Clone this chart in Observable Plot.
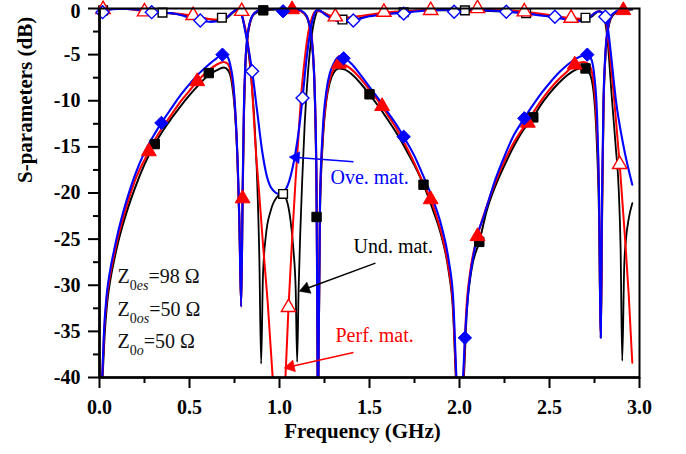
<!DOCTYPE html>
<html><head><meta charset="utf-8">
<script src="https://cdn.jsdelivr.net/npm/d3@7"></script>
<script src="https://cdn.jsdelivr.net/npm/@observablehq/plot@0.6"></script>
<style>
body{margin:0;background:#fff;}
#chart{width:686px;height:454px;}
svg text{font-family:"Liberation Serif","Times New Roman",serif;}
</style>
</head><body><div id="chart"></div>
<script>
// ---- S21 curves (filled markers) ----
const s21Und = [[0.017,-40],[0.028,-35.5],[0.043,-31.8],[0.062,-29.2],[0.08,-27.4],[0.1,-25.6],[0.13,-23.4],[0.16,-21.5],[0.2,-19.3],[0.25,-16.9],[0.307,-14.7],[0.35,-13.3],[0.4,-11.9],[0.45,-10.6],[0.5,-9.4],[0.55,-8.3],[0.607,-7.2],[0.65,-6.7],[0.69,-6.4],[0.715,-6.7],[0.735,-8.0],[0.752,-11],[0.767,-16.5],[0.778,-24],[0.787,-32.3],
 [0.795,-21],[0.802,-12],[0.81,-6.5],[0.82,-3.6],[0.835,-1.7],[0.86,-0.6],[0.91,-0.2],[1.0,-0.1],[1.1,-0.2],[1.14,-0.6],[1.16,-1.4],[1.18,-3.7],[1.195,-9],[1.207,-22.6],[1.212,-40],[1.214,-46],[1.216,-40],
 [1.225,-22],[1.24,-14.5],[1.26,-10],[1.28,-8],[1.3,-7],[1.33,-6.5],[1.36,-6.6],[1.4,-7.1],[1.45,-8.1],[1.5,-9.3],[1.55,-10.6],[1.6,-12],[1.65,-13.5],[1.7,-15.2],[1.75,-17],[1.8,-19.1],[1.85,-21.7],[1.9,-24.7],[1.94,-28.5],[1.965,-33],[1.98,-40],[2.0,-46],[2.024,-40],
 [2.04,-33],[2.065,-28.5],[2.11,-25.3],[2.15,-22],[2.2,-19.2],[2.25,-17],[2.3,-15],[2.35,-13.3],[2.41,-11.8],[2.45,-10.5],[2.5,-9.2],[2.55,-8.1],[2.6,-7.2],[2.65,-6.6],[2.69,-6.4],[2.72,-6.9],[2.745,-9],[2.762,-14],[2.775,-22],[2.785,-35.7],
 [2.793,-21],[2.8,-11],[2.81,-5.5],[2.825,-2.3],[2.85,-0.8],[2.9,-0.2],[2.96,-0.1]];
const s21Perf = [[0.015,-40],[0.026,-35],[0.041,-31.3],[0.06,-28.8],[0.08,-26.8],[0.1,-25],[0.13,-22.8],[0.16,-20.8],[0.2,-18.5],[0.274,-15.5],[0.3,-14.5],[0.35,-12.9],[0.4,-11.5],[0.45,-10.1],[0.5,-8.9],[0.543,-7.9],[0.6,-6.8],[0.65,-6.1],[0.69,-5.8],[0.712,-6.0],[0.73,-7.0],[0.748,-9.5],[0.764,-15],[0.777,-23],[0.787,-32.3],
 [0.795,-20.6],[0.802,-11.5],[0.81,-6.2],[0.82,-3.4],[0.835,-1.6],[0.86,-0.5],[0.9,-0.1],[1.0,0],[1.07,-0.1],[1.12,-0.3],[1.15,-0.8],[1.17,-2],[1.185,-4.5],[1.198,-10.5],[1.207,-22],[1.212,-40],[1.214,-46],[1.216,-40],
 [1.225,-21],[1.24,-14],[1.26,-9.7],[1.28,-7.6],[1.3,-6.6],[1.33,-6.0],[1.36,-6.1],[1.4,-6.6],[1.45,-7.6],[1.5,-8.8],[1.57,-10.6],[1.6,-11.5],[1.65,-13],[1.7,-14.8],[1.75,-16.8],[1.8,-19],[1.84,-20.7],[1.87,-22.4],[1.9,-24.4],[1.94,-28.2],[1.965,-32.5],[1.981,-40],[2.0,-46],[2.022,-40],
 [2.037,-33],[2.06,-28.5],[2.1,-24.7],[2.15,-21.5],[2.2,-18.8],[2.25,-16.5],[2.3,-14.6],[2.38,-12.2],[2.45,-10.1],[2.5,-8.8],[2.55,-7.7],[2.6,-6.8],[2.64,-6.1],[2.69,-5.8],[2.72,-6.1],[2.745,-8],[2.762,-12.5],[2.775,-20],[2.785,-35.7],
 [2.793,-20],[2.8,-10.5],[2.81,-5.2],[2.825,-2.1],[2.85,-0.7],[2.9,-0.1],[2.96,0]];
const s21Ove = [[0.015,-40],[0.025,-35],[0.04,-31],[0.06,-28.3],[0.08,-26.3],[0.1,-24.5],[0.13,-22.2],[0.16,-20.2],[0.2,-17.9],[0.25,-15.6],[0.3,-13.8],[0.344,-12.4],[0.4,-10.8],[0.45,-9.4],[0.5,-8.2],[0.55,-7.1],[0.6,-6.2],[0.65,-5.4],[0.683,-5.0],[0.705,-5.1],[0.725,-6.0],[0.745,-8.5],[0.762,-14],[0.776,-22],[0.787,-32.3],
 [0.795,-20],[0.802,-11],[0.81,-6],[0.82,-3.3],[0.835,-1.5],[0.86,-0.5],[0.9,-0.1],[0.95,0],[1.0,-0.1],[1.05,-0.05],[1.1,-0.1],[1.14,-0.5],[1.16,-1.3],[1.18,-3.5],[1.195,-8.5],[1.205,-18],[1.212,-40],[1.214,-46],[1.216,-40],
 [1.225,-21],[1.24,-13.3],[1.26,-9],[1.28,-7],[1.3,-6],[1.33,-5.2],[1.356,-5.3],[1.4,-6.0],[1.45,-7.2],[1.5,-8.5],[1.55,-9.8],[1.6,-11.2],[1.65,-12.6],[1.69,-13.9],[1.75,-16],[1.8,-18.2],[1.85,-20.6],[1.9,-23.6],[1.94,-27.3],[1.965,-31.5],[1.983,-40],[2.0,-46],[2.02,-40],
 [2.03,-35.7],[2.05,-30.5],[2.08,-26.5],[2.1,-24.5],[2.13,-22.8],[2.2,-18.5],[2.25,-16],[2.3,-13.8],[2.36,-11.9],[2.4,-10.7],[2.45,-9.3],[2.5,-8.1],[2.55,-7],[2.6,-6.1],[2.65,-5.4],[2.71,-5.0],[2.73,-5.4],[2.75,-7.5],[2.765,-12],[2.775,-20],[2.785,-35.7],
 [2.792,-20],[2.8,-10],[2.81,-5],[2.825,-2],[2.85,-0.6],[2.9,-0.1],[2.96,0]];

// ---- S11 curves (hollow markers) ----
const s11Und = [[0.0,-0.3],[0.05,-0.05],[0.1,0],[0.2,-0.1],[0.3,-0.3],[0.35,-0.45],[0.45,-0.65],[0.55,-0.95],[0.62,-1.2],[0.67,-1.3],[0.71,-1.0],[0.74,-0.5],[0.765,-0.15],[0.785,-0.5],[0.8,-1.5],[0.82,-3.5],[0.84,-7],[0.86,-12],[0.876,-18.7],[0.888,-27],[0.898,-38.5],[0.908,-29],[0.925,-24.5],[0.95,-22],[0.98,-20.6],[1.015,-20.1],[1.04,-20.8],[1.06,-22.8],[1.078,-26.3],[1.09,-30.5],[1.098,-38.3],[1.106,-30.6],[1.115,-24.5],[1.126,-18.7],[1.14,-12.5],[1.16,-6.5],[1.18,-2.8],[1.2,-0.8],[1.215,-0.2],[1.24,-0.4],[1.3,-1.0],[1.35,-1.3],[1.4,-1.2],[1.5,-0.8],[1.6,-0.5],[1.8,-0.2],[2.03,-0.2],[2.2,-0.3],[2.37,-0.5],[2.5,-0.8],[2.6,-1.1],[2.7,-1.2],[2.74,-0.8],[2.775,-0.3],[2.8,-0.7],[2.82,-3],[2.848,-10.1],[2.868,-15],[2.885,-19.8],[2.895,-26],[2.904,-38.2],[2.915,-28],[2.925,-25],[2.94,-22.8],[2.96,-21.1]];
const s11Perf = [[0.0,-0.2],[0.02,-0.1],[0.1,0],[0.2,-0.15],[0.25,-0.3],[0.35,-0.45],[0.45,-0.6],[0.52,-0.8],[0.6,-1.1],[0.66,-1.2],[0.71,-0.9],[0.74,-0.4],[0.765,-0.1],[0.785,-0.4],[0.8,-1.3],[0.82,-3.2],[0.84,-6.5],[0.855,-11],[0.867,-15],[0.885,-19.5],[0.91,-26],[0.935,-32],[0.962,-40],[1.0,-48],[1.033,-40],[1.05,-32.4],[1.07,-25],[1.089,-18.7],[1.105,-14],[1.12,-9.5],[1.14,-5.5],[1.16,-2.6],[1.18,-1],[1.2,-0.3],[1.22,-0.3],[1.27,-0.7],[1.31,-0.9],[1.35,-1.0],[1.45,-0.8],[1.6,-0.4],[1.84,-0.15],[2.1,-0.05],[2.25,-0.2],[2.36,-0.35],[2.5,-0.7],[2.62,-1.05],[2.68,-1.1],[2.73,-0.8],[2.77,-0.3],[2.79,-0.4],[2.81,-0.9],[2.83,-4],[2.86,-10],[2.89,-16.9],[2.92,-25],[2.94,-31],[2.96,-38.4]];
const s11Ove = [[0.0,-0.7],[0.017,-0.4],[0.05,-0.15],[0.1,-0.05],[0.15,-0.05],[0.2,-0.1],[0.25,-0.25],[0.29,-0.4],[0.35,-0.45],[0.4,-0.5],[0.45,-0.7],[0.5,-1.0],[0.56,-1.3],[0.62,-1.45],[0.67,-1.3],[0.71,-0.9],[0.74,-0.4],[0.765,-0.1],[0.78,-0.3],[0.795,-1],[0.81,-2.5],[0.83,-4.6],[0.848,-6.8],[0.875,-11],[0.904,-15.5],[0.93,-18.2],[0.96,-19.6],[1.0,-20.1],[1.04,-19.4],[1.07,-17.5],[1.09,-15.5],[1.11,-12.8],[1.128,-9.7],[1.15,-5.5],[1.17,-2.6],[1.19,-0.8],[1.205,-0.2],[1.22,-0.2],[1.25,-0.6],[1.3,-1.2],[1.35,-1.5],[1.41,-1.3],[1.45,-1.1],[1.5,-0.85],[1.6,-0.6],[1.69,-0.45],[1.8,-0.25],[1.9,-0.15],[2.0,-0.1],[2.1,-0.15],[2.2,-0.25],[2.26,-0.35],[2.35,-0.5],[2.45,-0.75],[2.53,-0.95],[2.6,-1.2],[2.67,-1.35],[2.72,-1.0],[2.75,-0.5],[2.775,-0.3],[2.795,-0.5],[2.81,-0.9],[2.825,-2.2],[2.84,-4.7],[2.87,-10.1],[2.91,-14.8],[2.96,-19.1]];

// ---- marker positions ----
const mS21Und = [[0.307,-14.7],[0.607,-7.0],[0.91,-0.2],[1.206,-22.6],[1.5,-9.3],[1.8,-19.1],[2.11,-25.3],[2.41,-11.8],[2.70,-6.5]];
const mS21Perf = [[0.274,-15.5],[0.543,-7.9],[0.795,-20.6],[1.07,-0.1],[1.33,-6.0],[1.57,-10.6],[1.84,-20.7],[2.1,-24.7],[2.38,-12.4],[2.64,-6.1],[2.91,-0.2]];
const mS21Ove = [[0.344,-12.4],[0.683,-5.0],[1.02,-0.3],[1.356,-5.4],[1.69,-13.9],[2.03,-35.7],[2.36,-11.9],[2.71,-5.0]];
const mS11Und = [[0.02,-0.2],[0.35,-0.45],[0.68,-1.0],[1.02,-20.1],[1.35,-1.2],[1.69,-0.4],[2.03,-0.2],[2.37,-0.5],[2.70,-1.0]];
const mS11Perf = [[0.02,-0.1],[0.25,-0.35],[0.52,-0.75],[0.79,-0.3],[1.05,-32.4],[1.31,-0.9],[1.58,-0.4],[1.84,-0.2],[2.1,0],[2.36,-0.35],[2.62,-1.05],[2.89,-16.9]];
const mS11Ove = [[0.017,-0.4],[0.29,-0.4],[0.56,-1.3],[0.848,-6.8],[1.128,-9.7],[1.41,-1.3],[1.69,-0.55],[1.97,-0.35],[2.26,-0.35],[2.53,-0.9],[2.81,-0.9]];

// ---- axes ----
const xMajor = [0, 0.5, 1, 1.5, 2, 2.5, 3];
const xMinor = [0.25, 0.75, 1.25, 1.75, 2.25, 2.75];
const yMajor = [0, -5, -10, -15, -20, -25, -30, -35, -40];
const yMinor = [-2.5, -7.5, -12.5, -17.5, -22.5, -27.5, -32.5, -37.5];
const xLabel = "Frequency (GHz)";
const yLabel = "S-parameters (dB)";

// ---- annotations (anchors in data units) ----
const caseLabels = [
  {text: "Ove. mat.", x: 1.283, y: -18.35, color: "#0000ff"},
  {text: "Und. mat.", x: 1.411, y: -25.76, color: "#000000"},
  {text: "Perf. mat.", x: 1.311, y: -35.5, color: "#ff0000"}
];
const arrows = [
  {x1: 1.411, y1: -16.6, x2: 1.061, y2: -16.1, color: "#0000ff"},
  {x1: 1.533, y1: -27.6, x2: 1.117, y2: -30.6, color: "#000000"},
  {x1: 1.411, y1: -37.3, x2: 1.033, y2: -38.95, color: "#ff0000"}
];
const zLabels = [
  {sub: "es", value: "98", x: 0.1, y: -29.04},
  {sub: "os", value: "50", x: 0.1, y: -32.6},
  {sub: "o",  value: "50", x: 0.1, y: -36.06}
];

const BLACK = "#000000", RED = "#ff0000", BLUE = "#0000ff";
const KX = 180, KY = 9.2, BACK = 5.5;
const heads = arrows.map(a => {
  const dx = (a.x2 - a.x1) * KX, dy = -(a.y2 - a.y1) * KY;
  const L = Math.hypot(dx, dy), ux = dx / L, uy = dy / L;
  return {x: a.x2 - ux * BACK / KX, y: a.y2 + uy * BACK / KY, rot: Math.atan2(dy, dx) * 180 / Math.PI + 90, color: a.color};
});

const lineOpts = (stroke, w) => ({x: d => d[0], y: d => d[1], stroke, strokeWidth: w, curve: "monotone-x", clip: true});
const dotOpts = (symbol, color, filled, r) => ({x: d => d[0], y: d => d[1], symbol, r,
  fill: filled ? color : "#ffffff", stroke: color, strokeWidth: filled ? 1 : 1.4});

const chart = Plot.plot({
  width: 686, height: 454,
  marginLeft: 99, marginRight: 47, marginTop: 8, marginBottom: 77,
  x: {domain: [0, 3]},
  y: {domain: [-40, 0]},
  style: {background: "#ffffff", color: "#000000", fontFamily: "Liberation Serif", fontSize: "20px", overflow: "visible"},
  marks: [
    Plot.line(s11Und, lineOpts(BLACK, 1.8)),
    Plot.line(s21Und, lineOpts(BLACK, 2)),
    Plot.line(s11Perf, lineOpts(RED, 2)),
    Plot.line(s21Perf, lineOpts(RED, 2.1)),
    Plot.line(s11Ove, lineOpts(BLUE, 2.1)),
    Plot.line(s21Ove, lineOpts(BLUE, 2.1)),
    Plot.dot(mS21Und, dotOpts("square", BLACK, true, 5.3)),
    Plot.dot(mS11Und, dotOpts("square", BLACK, false, 4.9)),
    Plot.dot(mS21Perf, dotOpts("triangle", RED, true, 5.5)),
    Plot.dot(mS11Perf, dotOpts("triangle", RED, false, 5.3)),
    Plot.dot(mS21Ove, dotOpts("diamond2", BLUE, true, 6)),
    Plot.dot(mS11Ove, dotOpts("diamond2", BLUE, false, 5.8)),
    Plot.link(arrows, {x1: "x1", y1: "y1", x2: "x2", y2: "y2", stroke: d => d.color, strokeWidth: 1.5}),
    Plot.dot(heads, {x: "x", y: "y", symbol: "triangle", r: 4.4, rotate: "rot", fill: d => d.color, stroke: d => d.color, strokeWidth: 0.5}),
    Plot.text(caseLabels, {x: "x", y: "y", text: "text", fill: d => d.color, textAnchor: "start", fontSize: 20, fontWeight: "normal"}),
    Plot.text(zLabels, {x: "x", y: "y", text: d => "Z0" + d.sub + "=" + d.value + " Ω", textAnchor: "start", fontSize: 20, fontWeight: "normal", fill: "#111"}),
    Plot.frame({stroke: BLACK, strokeWidth: 2}),
    Plot.ruleY([-40], {stroke: BLACK, strokeWidth: 2.6}),
    Plot.ruleX([0], {stroke: BLACK, strokeWidth: 2.6}),
    Plot.axisX(xMajor, {tickSize: 11, tickPadding: 11, strokeWidth: 2, tickFormat: d => d.toFixed(1), fontSize: 20, fontWeight: "bold", label: null}),
    Plot.axisX(xMinor, {tickSize: 6, strokeWidth: 2, tickFormat: () => "", label: null}),
    Plot.axisY(yMajor, {tickSize: 11, tickPadding: 8, strokeWidth: 2, tickFormat: d => d === 0 ? "" : String(d), fontSize: 20, fontWeight: "bold", label: null}),
    Plot.axisY(yMinor, {tickSize: 6, strokeWidth: 2, tickFormat: () => "", label: null}),
    // top tick label "0", nudged down slightly so it stays inside the picture
    Plot.text(yMajor.filter(d => d === 0), {y: d => d, text: d => String(d), frameAnchor: "left", textAnchor: "end", dx: -19, dy: 3.5, fontSize: 20, fontWeight: "bold"}),
    Plot.text([xLabel], {text: d => d, frameAnchor: "bottom", dx: -7, dy: 60, fontSize: 21, fontWeight: "bold"}),
    Plot.text([yLabel], {text: d => d, frameAnchor: "left", rotate: -90, dx: -74, dy: -10, fontSize: 21, fontWeight: "bold"})
  ]
});
document.getElementById("chart").appendChild(chart);

// rich text for the impedance labels: Z with subscript 0 + italic letters
const NS = "http://www.w3.org/2000/svg";
chart.querySelectorAll("text").forEach(t => {
  const s = t.textContent;
  const z = zLabels.find(d => s === "Z0" + d.sub + "=" + d.value + " Ω");
  if (!z) return;
  while (t.firstChild) t.removeChild(t.firstChild);
  const add = (txt, attrs) => { const ts = document.createElementNS(NS, "tspan"); ts.textContent = txt; for (const k in attrs) ts.setAttribute(k, attrs[k]); t.appendChild(ts); };
  add("Z", {});
  add("0", {dy: "7", "font-size": "14"});
  add(z.sub, {"font-size": "14", "font-style": "italic"});
  add("=" + z.value + " Ω", {dy: "-7", "font-size": "20"});
});
</script>
</body></html>
